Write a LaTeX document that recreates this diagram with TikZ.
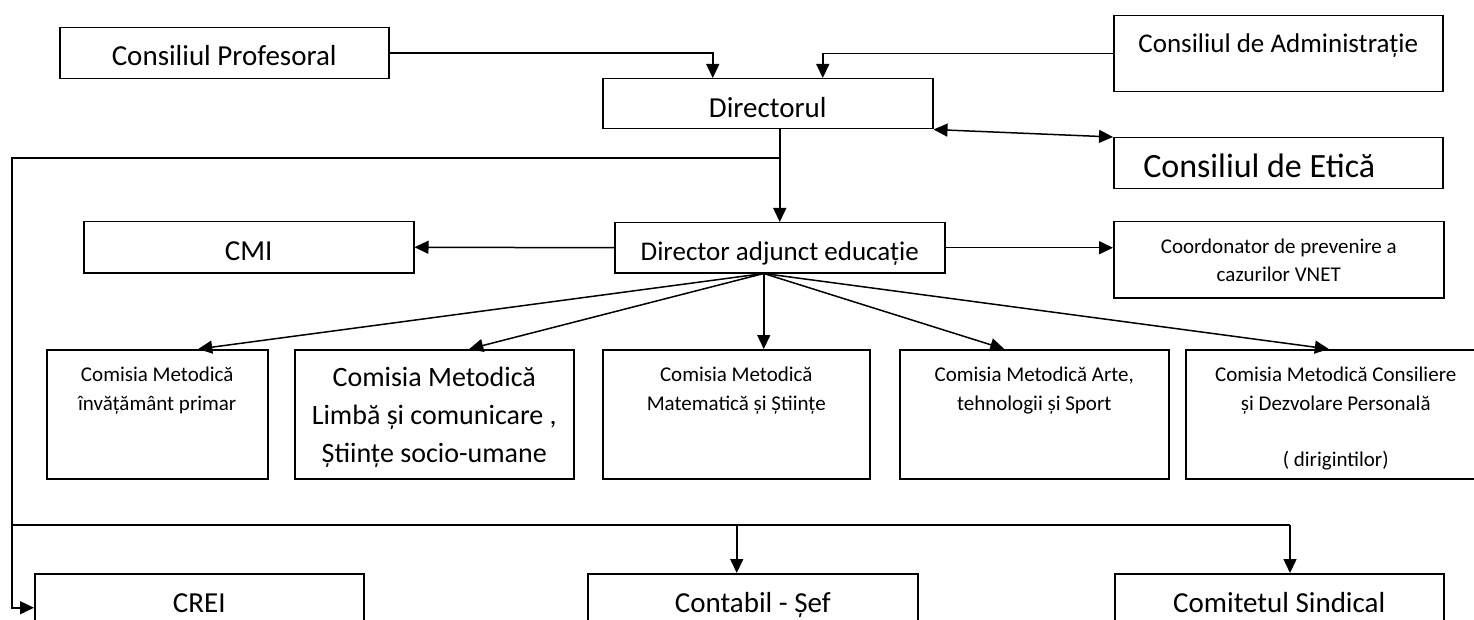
\documentclass[tikz,border=0pt]{standalone}
\usepackage{fontspec}
\setmainfont{Carlito}
\usetikzlibrary{arrows.meta,calc,positioning}

\newcommand{\fontmare}{\fontsize{29}{38}\selectfont}
\newcommand{\fontmic}{\fontsize{21}{29}\selectfont}

\tikzset{
  caseta/.style={draw, inner sep=0pt, anchor=north west, align=flush center},
  sageata/.style={-{Triangle[length=14pt,width=13pt]}},
  dubla/.style={{Triangle[length=14pt,width=13pt]}-{Triangle[length=14pt,width=13pt]}}
}

\begin{document}
\begin{tikzpicture}[x=1pt,y=-1pt,line width=1.5pt]
\useasboundingbox (0,0) rectangle (1474,620);
\clip (0,0) rectangle (1474,620);

% conducere
\node[caseta, text width=329pt, text height=38pt, text depth=13pt, font=\fontmare] (prof) at (59,27) {Consiliul Profesoral};
\node[caseta, text width=330pt, text height=39pt, text depth=11pt, font=\fontmare] (dir) at (602,78) {Directorul};
\node[caseta, text width=329pt, text height=37pt, text depth=39pt, font=\fontsize{27}{36}\selectfont] (admin) at (1113,15) {Consiliul de Administrație};
\node[caseta, text width=329pt, text height=40pt, text depth=11pt, font=\fontsize{34}{40}\selectfont] (etica) at (1113,137) {Consiliul de Etică\kern38pt};

\draw [sageata] (prof.east) -| ([xshift=-55pt]dir.north);
\draw [sageata] (admin.west) -| ([xshift=55pt]dir.north);
\draw [dubla] (dir.south east) -- (etica.north west);

% director adjunct
\node[caseta, text width=330pt, text height=38pt, text depth=12pt, font=\fontsize{27}{36}\selectfont] (da) at (614,222) {Director adjunct educație};
\node[caseta, text width=330pt, text height=39pt, text depth=12pt, font=\fontmare] (cmi) at (83,221) {CMI};
\node[caseta, text width=330pt, text height=32pt, text depth=44pt, font=\fontsize{21}{28}\selectfont] (coord) at (1113,221) {Coordonator de prevenire a\\cazurilor VNET};

\draw [sageata] (dir.south -| da.north) -- (da.north);
\draw [sageata] (da.west) -- (cmi.east);
\draw [sageata] (da.east) -- (da.east -| coord.west);

% comisii metodice
\node[caseta, text width=221pt, text height=32pt, text depth=97pt, font=\fontmic] (c1) at (46,349) {Comisia Metodică\\învățământ primar};
\node[caseta, text width=279pt, text height=37pt, text depth=92pt, font=\fontsize{28}{38}\selectfont] (c2) at (294,349) {Comisia Metodică\\Limbă și comunicare ,\\Științe socio-umane};
\node[caseta, text width=267pt, text height=32pt, text depth=97pt, font=\fontmic] (c3) at (602,349) {Comisia Metodică\\Matematică și Științe};
\node[caseta, text width=269pt, text height=32pt, text depth=97pt, font=\fontmic] (c4) at (899,349) {Comisia Metodică Arte,\\tehnologii și Sport};
\node[caseta, text width=300pt, text height=32pt, text depth=97pt, font=\fontmic] (c5) at (1185,349) {Comisia Metodică Consiliere\\și Dezvolare Personală\\[27pt]( dirigintilor)};

\coordinate (sursa) at ([xshift=-16pt]da.south);
\draw [sageata] (sursa) -- ([xshift=41pt]c1.north);
\draw [sageata] (sursa) -- ([xshift=35pt]c2.north);
\draw [sageata] (sursa) -- (sursa |- c3.north);
\draw [sageata] (sursa) -- ([xshift=-30pt]c4.north);
\draw [sageata] (sursa) -- ([xshift=-7pt]c5.north);

% compartimente
\node[caseta, text width=329pt, text height=39pt, text depth=29pt, font=\fontmare] (crei) at (34,573) {CREI};
\node[caseta, text width=330pt, text height=39pt, text depth=29pt, font=\fontmare] (contabil) at (587,573) {Contabil - Șef};
\node[caseta, text width=329pt, text height=39pt, text depth=29pt, font=\fontmare] (comitet) at (1114,573) {Comitetul Sindical};

\coordinate (ramura) at (779,158);
\coordinate (bara) at (12,525);
\coordinate (bara capat) at (1290,525);
\draw [sageata] (ramura) -| ([xshift=-22pt]crei.west) -- (crei.west);
\draw (bara) -- (bara capat);
\draw [sageata] ([xshift=-16pt]contabil.north |- bara) -- ([xshift=-16pt]contabil.north);
\draw [sageata] (bara capat) -- (bara capat |- comitet.north);
\end{tikzpicture}
\end{document}
